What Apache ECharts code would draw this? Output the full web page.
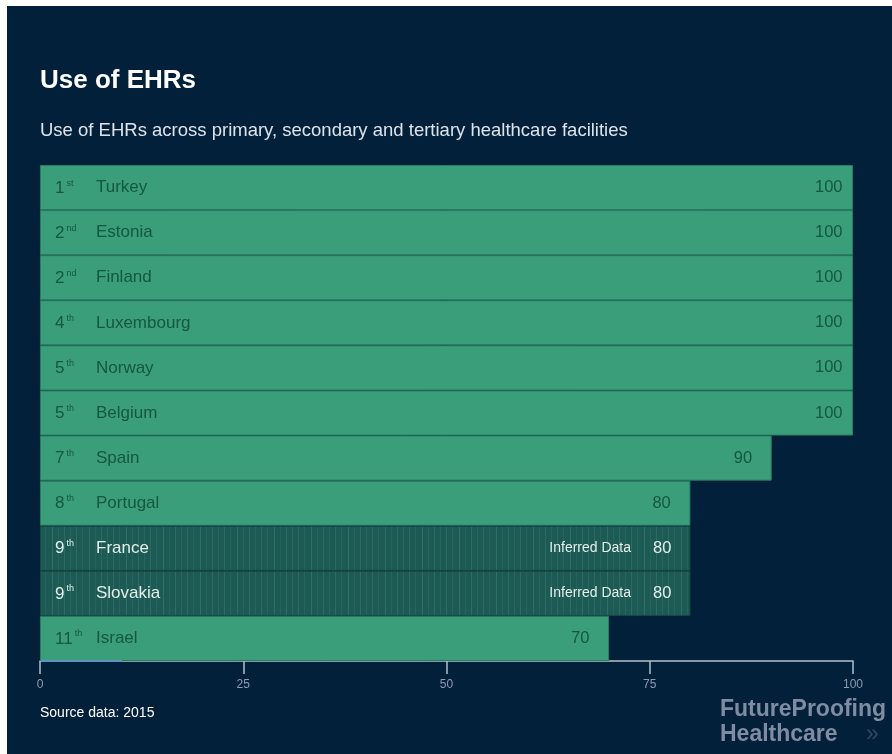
<!DOCTYPE html>
<html>
<head>
<meta charset="utf-8">
<title>Use of EHRs</title>
<script src="https://cdn.jsdelivr.net/npm/echarts@6/dist/echarts.min.js"></script>
<style>
  html, body { margin: 0; padding: 0; background: #ffffff; }
  #frame { position: absolute; left: 7px; top: 6px; width: 885px; height: 748px; background: #03203a; }
  #chart { position: absolute; left: 0; top: 0; width: 892px; height: 754px; }
</style>
</head>
<body>
<div id="frame"></div>
<div id="chart"></div>
<script>
// Ranking of EHR use, 2015
const countries = ['Turkey', 'Estonia', 'Finland', 'Luxembourg', 'Norway', 'Belgium', 'Spain', 'Portugal', 'France', 'Slovakia', 'Israel'];
const rankNumbers = ['1', '2', '2', '4', '5', '5', '7', '8', '9', '9', '11'];
const rankSuffixes = ['st', 'nd', 'nd', 'th', 'th', 'th', 'th', 'th', 'th', 'th', 'th'];
const usage = [100, 100, 100, 100, 100, 100, 90, 80, 80, 80, 70];
const inferred = [false, false, false, false, false, false, false, false, true, true, false];
const axisTicks = [0, 25, 50, 75, 100];

const FONT = '"Liberation Sans", Arial, Helvetica, sans-serif';
const GREEN = '#3b9e7b';
const GREEN_EDGE = '#2a7c61';
const DARK_TEXT = '#15573f';
const LIGHT_TEXT = '#e4eeea';

// Striped fill used for inferred values
function stripePattern() {
  const c = document.createElement('canvas');
  c.width = 37; c.height = 8;
  const g = c.getContext('2d');
  g.fillStyle = '#1d5a54';
  g.fillRect(0, 0, c.width, c.height);
  const lines = [[2, 1, '#2a6c64'], [8, 1, '#25655e'], [15, 1, '#2d7068'], [21, 1, '#24645d'], [27, 1, '#2b6d65'], [33, 1, '#26675f']];
  lines.forEach(([x, w, col]) => { g.fillStyle = col; g.fillRect(x, 0, w, c.height); });
  return { image: c, repeat: 'repeat' };
}
const stripes = stripePattern();

const chart = echarts.init(document.getElementById('chart'), null, { renderer: 'canvas' });

const barData = usage.map((v, i) => ({
  value: v,
  itemStyle: inferred[i]
    ? { color: stripes, borderColor: '#174a44', borderWidth: 1 }
    : { color: GREEN, borderColor: GREEN_EDGE, borderWidth: 1 }
}));

const rankData = usage.map((v, i) => ({
  value: v,
  label: {
    formatter: '{n|' + rankNumbers[i] + '}{s|' + rankSuffixes[i] + '}',
    rich: {
      n: { fontSize: 17, fontFamily: FONT, color: inferred[i] ? LIGHT_TEXT : DARK_TEXT, lineHeight: 18, verticalAlign: 'bottom' },
      s: { fontSize: 9, fontFamily: FONT, color: inferred[i] ? LIGHT_TEXT : DARK_TEXT, lineHeight: 18, verticalAlign: 'top', padding: [0, 0, 0, 2] }
    }
  }
}));

const nameData = usage.map((v, i) => ({
  value: v,
  label: { formatter: countries[i], color: inferred[i] ? LIGHT_TEXT : DARK_TEXT }
}));

// Values sit in a three-digit box anchored near the bar end
const valueLabel = {
  show: true,
  position: 'insideRight',
  distance: 10,
  fontFamily: FONT,
  fontSize: 16.5,
  color: DARK_TEXT,
  formatter: (p) => inferred[p.dataIndex]
    ? '{inf|Inferred Data}{lv|' + p.value + '}'
    : '{v|' + p.value + '}',
  rich: {
    v: { fontSize: 16.5, fontFamily: FONT, color: DARK_TEXT, width: 28, align: 'left' },
    lv: { fontSize: 16.5, fontFamily: FONT, color: LIGHT_TEXT, padding: [0, 9, 0, 0] },
    inf: { fontSize: 14, fontFamily: FONT, color: LIGHT_TEXT, padding: [0, 22, 0, 0] }
  }
};

chart.setOption({
  backgroundColor: 'transparent',
  animation: false,
  title: [
    {
      text: 'Use of EHRs', left: 40, top: 68, padding: 0,
      textStyle: { color: '#ffffff', fontSize: 26, fontWeight: 'bold', fontFamily: FONT }
    },
    {
      text: 'Use of EHRs across primary, secondary and tertiary healthcare facilities', left: 40, top: 121, padding: 0,
      textStyle: { color: '#dde3ea', fontSize: 18.5, fontWeight: 'normal', fontFamily: FONT }
    }
  ],
  grid: { left: 40, right: 39, top: 165, bottom: 93, containLabel: false },
  xAxis: {
    type: 'value', min: 0, max: 100, interval: 25,
    axisLine: { show: true, lineStyle: { color: '#b3bfcc', width: 1.5 } },
    axisTick: { show: true, length: 13, lineStyle: { color: '#b3bfcc', width: 1.5 } },
    axisLabel: {
      show: true, margin: 18, color: '#8e9bb0', fontSize: 12, fontFamily: FONT,
      formatter: (v) => axisTicks.includes(v) ? String(v) : ''
    },
    splitLine: { show: false }
  },
  yAxis: {
    type: 'category', data: countries, inverse: true,
    axisLine: { show: false }, axisTick: { show: false }, axisLabel: { show: false }
  },
  series: [
    {
      name: 'EHR use', type: 'bar', data: barData, barCategoryGap: '0%', barGap: '-100%',
      label: valueLabel, z: 2
    },
    {
      name: 'rank', type: 'bar', data: rankData, barGap: '-100%', silent: true,
      itemStyle: { color: 'rgba(0,0,0,0)' },
      label: { show: true, position: 'insideLeft', distance: 15 }, z: 3
    },
    {
      name: 'country', type: 'bar', data: nameData, barGap: '-100%', silent: true,
      itemStyle: { color: 'rgba(0,0,0,0)' },
      label: { show: true, position: 'insideLeft', distance: 56, fontSize: 17, fontFamily: FONT }, z: 3
    }
  ],
  graphic: [
    {
      type: 'line', z: 10,
      shape: { x1: 41, y1: 661, x2: 122, y2: 661 },
      style: { stroke: '#5d92c2', lineWidth: 2 }
    },
    {
      type: 'text', left: 40, top: 706,
      style: { text: 'Source data: 2015', fill: '#ffffff', font: '14px ' + FONT }
    },
    {
      type: 'text', left: 720, top: 698,
      style: { text: 'FutureProofing', fill: '#7f8ca2', font: 'bold 23px ' + FONT }
    },
    {
      type: 'text', left: 720, top: 723,
      style: { text: 'Healthcare', fill: '#7f8ca2', font: 'bold 23px ' + FONT }
    },
    {
      type: 'text', left: 866, top: 723,
      style: { text: '\u00bb', fill: '#2f4863', font: '23px ' + FONT }
    }
  ]
});
</script>
</body>
</html>
